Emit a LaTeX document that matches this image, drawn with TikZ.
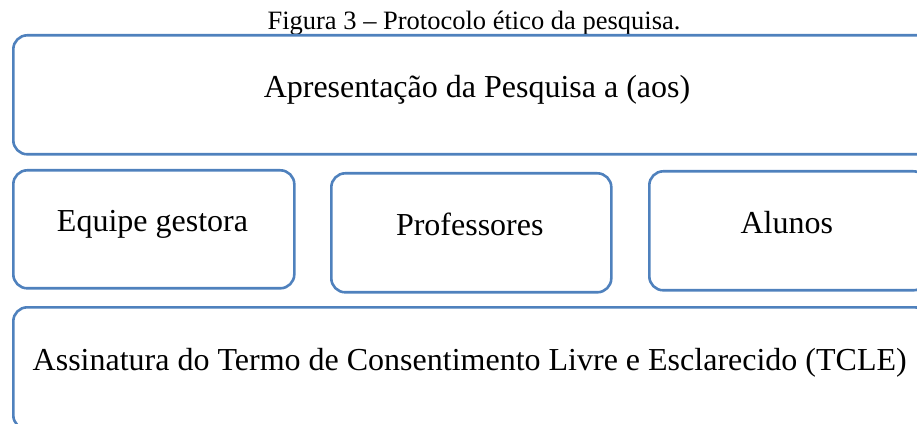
\documentclass[tikz,border=0pt]{standalone}
\usepackage{fontspec}
\setmainfont{Liberation Serif}
\definecolor{boxblue}{RGB}{79,129,189}
\begin{document}
\begin{tikzpicture}[x=1pt,y=1pt,
  box/.style={draw=boxblue, line width=2.6pt, rounded corners=14pt, inner sep=0pt, anchor=north west},
  lbl/.style={anchor=base, inner sep=0pt, font=\fontsize{32}{38}\selectfont},
  ttl/.style={anchor=base, inner sep=0pt, font=\fontsize{26.5}{32}\selectfont}]
\useasboundingbox (0,0) rectangle (917,423);
\clip (0,0) rectangle (917,423);
% title
\node[ttl] (title) at (474,393.7) {Figura 3 -- Protocolo ético da pesquisa.};
% boxes
\node[box, minimum width=930pt, minimum height=119pt] (top) at (12,389) {};
\node[box, minimum width=281pt, minimum height=118pt] (equipe) at (12,254) {};
\node[box, minimum width=280pt, minimum height=119pt] (prof) at (330,251) {};
\node[box, minimum width=278pt, minimum height=119pt] (alunos) at (648,253) {};
\node[box, minimum width=915pt, minimum height=122pt] (tcle) at (12,117) {};
% labels
\node[lbl] (toptxt) at (477,325.7) {Apresentação da Pesquisa a (aos)};
\node[lbl] (equipetxt) at (152.5,191.3) {Equipe gestora};
\node[lbl] (proftxt) at (469.8,187) {Professores};
\node[lbl] (alunostxt) at (786.8,189.7) {Alunos};
\node[lbl] (tcletxt) at (469.7,53) {Assinatura do Termo de Consentimento Livre e Esclarecido (TCLE)};
\end{tikzpicture}
\end{document}
